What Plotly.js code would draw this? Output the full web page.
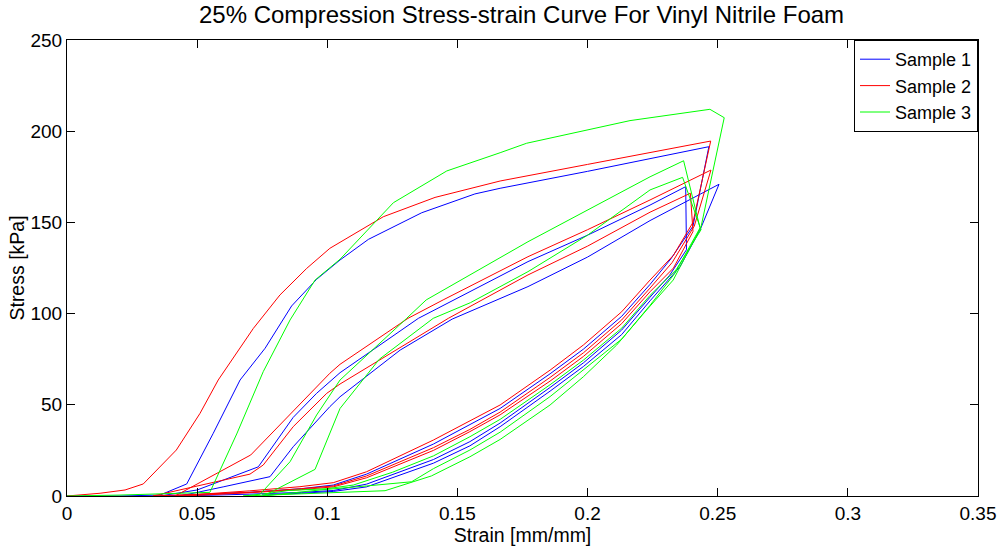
<!DOCTYPE html>
<html>
<head>
<meta charset="utf-8">
<script src="https://cdn.plot.ly/plotly-3.0.1.min.js"></script>
<style>
html,body{margin:0;padding:0;background:#fff;}
#chart{width:1002px;height:548px;}
</style>
</head>
<body>
<div id="chart"></div>
<script>
// ---- Data (strain in mm/mm, stress in kPa) ----
var seriesNames = ["Sample 1", "Sample 2", "Sample 3"];
var seriesColors = ["#0000ff", "#ff0000", "#00ff00"];

// Sample 1 (three load/unload cycles)
var sample1Strain = [
  0, 0.02, 0.0357, 0.046, 0.0562, 0.0665, 0.0761, 0.0863, 0.0959, 0.1049, 0.1158, 0.1363, 0.1567, 0.1664, 0.2, 0.2466,
  0.2405, 0.232, 0.224, 0.2131, 0.1984, 0.1856, 0.1664, 0.1548, 0.1408, 0.1151, 0.1023, 0.09, 0.07, 0.05, 0.0357,
  0.05, 0.0735, 0.0869, 0.0959, 0.1049, 0.135, 0.1771, 0.2, 0.224, 0.2377,
  0.238, 0.2315, 0.224, 0.2131, 0.1984, 0.1856, 0.1664, 0.1548, 0.1408, 0.1151, 0.1023, 0.09, 0.07, 0.0434,
  0.06, 0.078, 0.0869, 0.101, 0.1049, 0.128, 0.148, 0.1771, 0.2, 0.224, 0.2505,
  0.2432, 0.2355, 0.224, 0.2131, 0.1984, 0.1856, 0.1664, 0.1548, 0.1408, 0.1151, 0.1023, 0.09, 0.075
];
var sample1Stress = [
  0, 0, 0.5, 6.6, 34.4, 63.6, 81, 104.2, 118.8, 129.4, 140.7, 155.3, 165.6, 168.7, 178, 191.5,
  148, 130, 116, 98.5, 80.5, 67, 48, 39, 28.5, 12, 6, 4, 2, 0.8, 0,
  3.3, 16, 43.1, 56.3, 67.6, 97.4, 128.5, 143, 159.5, 169.6,
  135, 121, 109, 91, 73, 59.5, 40, 29.8, 20, 6.5, 3, 2, 1, 0,
  5, 10.6, 27, 49, 54.4, 80, 97, 114.8, 131, 151, 170.9,
  145.8, 125.7, 107, 88.5, 71, 57.5, 38, 27.5, 18, 5, 2.5, 1.5, 0.5
];

// Sample 2
var sample2Strain = [
  0, 0.0127, 0.0223, 0.0293, 0.042, 0.0511, 0.0581, 0.0716, 0.0818, 0.0921, 0.101, 0.1215, 0.1414, 0.1664, 0.2, 0.2473,
  0.2405, 0.233, 0.224, 0.2131, 0.1984, 0.1856, 0.1664, 0.1548, 0.1408, 0.1151, 0.1023, 0.0895, 0.07, 0.0415,
  0.0706, 0.101, 0.1049, 0.131, 0.1445, 0.1771, 0.2, 0.224, 0.2474,
  0.241, 0.2325, 0.224, 0.2131, 0.1984, 0.1856, 0.1664, 0.1548, 0.1408, 0.1151, 0.1023, 0.09, 0.07, 0.033,
  0.0703, 0.0754, 0.0869, 0.0998, 0.1049, 0.1465, 0.1771, 0.2, 0.224, 0.2395,
  0.2405, 0.233, 0.224, 0.2131, 0.1984, 0.1856, 0.1664, 0.1548, 0.1408, 0.1151, 0.1023, 0.09, 0.07, 0.045
];
var sample2Stress = [
  0, 1.5, 3.3, 6.6, 25.2, 45.3, 63.6, 91.9, 110.2, 124.8, 135.8, 153.1, 163.7, 172.7, 181.8, 194.6,
  150, 132, 118.4, 101, 82.8, 69, 49.9, 41, 30.7, 13.3, 7.3, 5.1, 2.8, 0,
  22.5, 67.3, 72.2, 97.4, 107.5, 131.2, 146, 162.3, 178.7,
  148, 128, 114, 96.5, 78.5, 65, 46, 36.5, 26.5, 11, 5.5, 4, 2, 0,
  12, 17, 38, 56.3, 61.4, 97.4, 121.2, 137, 155.6, 166,
  145, 125, 112, 94.5, 76.5, 63, 44.5, 35.3, 25, 10, 5, 3.5, 1.8, 0
];

// Sample 3
var sample3Strain = [
  0, 0.02, 0.0549, 0.0652, 0.0754, 0.0857, 0.0953, 0.1049, 0.1254, 0.1459, 0.1664, 0.1766, 0.2163, 0.247, 0.2525,
  0.2436, 0.2329, 0.2227, 0.2112, 0.1984, 0.1856, 0.1664, 0.1548, 0.14, 0.1222, 0.0972, 0.08, 0.0677,
  0.0742, 0.0857, 0.0959, 0.1049, 0.1305, 0.138, 0.1771, 0.2, 0.224, 0.2369,
  0.2432, 0.2335, 0.224, 0.2131, 0.1984, 0.1856, 0.1664, 0.1548, 0.1408, 0.1324, 0.115, 0.0972, 0.0754,
  0.0953, 0.1049, 0.12, 0.1407, 0.155, 0.1771, 0.2, 0.224, 0.2365,
  0.2436, 0.234, 0.224, 0.2131, 0.1984, 0.1856, 0.1664, 0.1548, 0.1408, 0.125, 0.11, 0.1, 0.085, 0.075
];
var sample3Stress = [
  0, 0.5, 2, 34, 68.2, 96.5, 118.4, 129.8, 160.8, 178.2, 188.2, 193.4, 205.8, 212, 207.4,
  147.6, 118.4, 102, 82.8, 65.4, 49.9, 31, 21.5, 11, 2.9, 1.5, 0.5, 0,
  1, 18.8, 44.4, 63.6, 97.4, 107.5, 139.4, 157, 175, 183.8,
  147, 122, 104.5, 86, 69, 54.5, 35, 25.2, 15, 7.8, 5.5, 3.3, 0,
  14.6, 48, 75, 97.4, 106, 123, 143, 167.8, 174.7,
  146, 124, 110, 92, 74.5, 61, 42, 32.5, 22, 13, 6, 4, 3, 1
];

var xTickValues = [0, 0.05, 0.1, 0.15, 0.2, 0.25, 0.3, 0.35];
var xTickLabels = ["0", "0.05", "0.1", "0.15", "0.2", "0.25", "0.3", "0.35"];
var yTickValues = [0, 50, 100, 150, 200, 250];
var yTickLabels = ["0", "50", "100", "150", "200", "250"];

// ---- Build chart ----
var strains = [sample1Strain, sample2Strain, sample3Strain];
var stresses = [sample1Stress, sample2Stress, sample3Stress];
var FONT = "Liberation Sans, Arial, Helvetica, sans-serif";

var traces = seriesNames.map(function (name, i) {
  return {
    x: strains[i],
    y: stresses[i],
    name: name,
    type: "scatter",
    mode: "lines",
    line: { color: seriesColors[i], width: 1 }
  };
});

var axisCommon = {
  showgrid: false,
  zeroline: false,
  showline: true,
  linecolor: "#000",
  linewidth: 1,
  mirror: "ticks",
  ticks: "inside",
  ticklen: 8,
  tickcolor: "#000",
  tickwidth: 1,
  tickfont: { family: FONT, size: 19, color: "#000" },
  tickmode: "array"
};

var layout = {
  width: 1002,
  height: 548,
  margin: { l: 67, r: 24, t: 40, b: 52 },
  paper_bgcolor: "#fff",
  plot_bgcolor: "#fff",
  font: { family: FONT, color: "#000" },
  title: {
    text: "25% Compression Stress-strain Curve For Vinyl Nitrile Foam",
    font: { family: FONT, size: 24, color: "#000" },
    x: 0.5205, xanchor: "center",
    y: 0.974, yref: "container", yanchor: "middle"
  },
  xaxis: Object.assign({}, axisCommon, {
    range: [0, 0.35],
    tickvals: xTickValues,
    ticktext: xTickLabels,
    title: { text: "Strain [mm/mm]", font: { family: FONT, size: 19.5, color: "#000" }, standoff: 0 }
  }),
  yaxis: Object.assign({}, axisCommon, {
    range: [0, 250],
    tickvals: yTickValues,
    ticktext: yTickLabels,
    title: { text: "Stress [kPa]", font: { family: FONT, size: 19.5, color: "#000" }, standoff: 0 }
  }),
  showlegend: true,
  legend: {
    x: 1, xanchor: "right", xref: "paper",
    y: 1, yanchor: "top", yref: "paper",
    bgcolor: "#fff",
    bordercolor: "#000",
    borderwidth: 1,
    font: { family: FONT, size: 18, color: "#000" },
    itemwidth: 30,
    tracegroupgap: 0
  }
};

Plotly.newPlot("chart", traces, layout, { displayModeBar: false, staticPlot: true });
</script>
</body>
</html>
